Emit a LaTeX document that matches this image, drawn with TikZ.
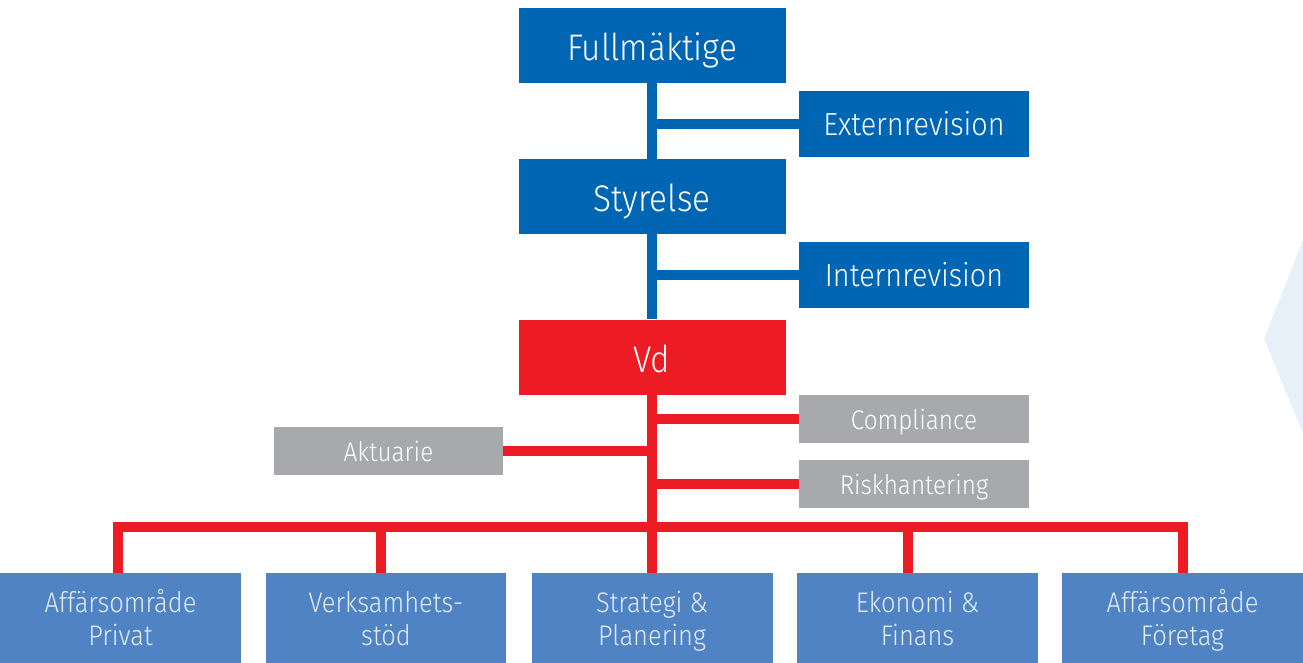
\documentclass[tikz,border=0pt]{standalone}
\usepackage{fontspec}
\setmainfont{Fira Sans Light}[FakeStretch=0.9]
\definecolor{cblue}{HTML}{0066B3}
\definecolor{cred}{HTML}{ED1C24}
\definecolor{cgray}{HTML}{A7A9AC}
\definecolor{cbot}{HTML}{4F83C3}
\definecolor{cbottext}{HTML}{E4ECF6}
\definecolor{cpale}{HTML}{E8F0F9}
\begin{document}
\begin{tikzpicture}[x=1pt,y=-1pt,
  box/.style={inner sep=0pt,text=white,align=center},
  bigbox/.style={box,fill=cblue,minimum width=267pt,minimum height=75pt,text height=30.4pt,text depth=0pt,font=\fontsize{37}{42}\selectfont},
  sidebox/.style={box,fill=cblue,minimum width=230pt,minimum height=66pt,text height=22.6pt,text depth=0pt,font=\fontsize{32}{36}\selectfont},
  graybox/.style={box,fill=cgray,minimum width=230pt,minimum height=48pt,text height=20.6pt,text depth=0pt,font=\fontsize{27}{32}\selectfont},
  botbox/.style={box,fill=cbot,text=cbottext,minimum width=241pt,minimum height=90pt,text height=55.4pt,text depth=0pt,font=\fontsize{28.3}{33.4}\selectfont},
  bline/.style={draw=cblue,line width=10pt},
  rline/.style={draw=cred,line width=10pt,line join=miter}]
\useasboundingbox (0,0) rectangle (1303,663);
\fill[cpale] (1303,240) -- (1264,339) -- (1303,433) -- cycle;
\coordinate (bus) at (652,527);
\node[bigbox] (full) at (652,45.5) {Fullmäktige};
\node[sidebox] (ext) at (914,124) {Externrevision};
\node[bigbox] (sty) at (652,196.5) {Styrelse};
\node[sidebox] (int) at (914,275) {Internrevision};
\node[bigbox,fill=cred] (vd) at (652,357) {Vd};
\node[graybox] (comp) at (914,419) {Compliance};
\node[graybox,minimum width=229pt] (akt) at (388.5,451) {Aktuarie};
\node[graybox] (risk) at (914,484) {Riskhantering};
\node[botbox] (b1) at (120.5,618) {Affärsområde\\Privat};
\node[botbox,minimum width=240pt] (b2) at (386,618) {Verksamhets-\\stöd};
\node[botbox] (b3) at (652,618) {Strategi \&\\Planering};
\node[botbox] (b4) at (917.5,618) {Ekonomi \&\\Finans};
\node[botbox] (b5) at (1182.5,618) {Affärsområde\\Företag};
\draw[bline] (full.south) -- (sty.north);
\draw[bline] (sty.south) -- (vd.north);
\draw[bline] (ext.west) -- (ext.west -| full.south);
\draw[bline] (int.west) -- (int.west -| sty.south);
\draw[rline] (vd.south) -- (b3.north);
\draw[rline] (comp.west) -- (comp.west -| vd.south);
\draw[rline] (akt.east) -- (akt.east -| vd.south);
\draw[rline] (risk.west) -- (risk.west -| vd.south);
\coordinate (d1) at (118,573);
\coordinate (d2) at (381,573);
\coordinate (d4) at (908,573);
\coordinate (d5) at (1183,573);
\draw[rline] (d1) |- (bus) -| (d5);
\draw[rline] (d2) -- (d2 |- bus);
\draw[rline] (d4) -- (d4 |- bus);
\end{tikzpicture}
\end{document}
